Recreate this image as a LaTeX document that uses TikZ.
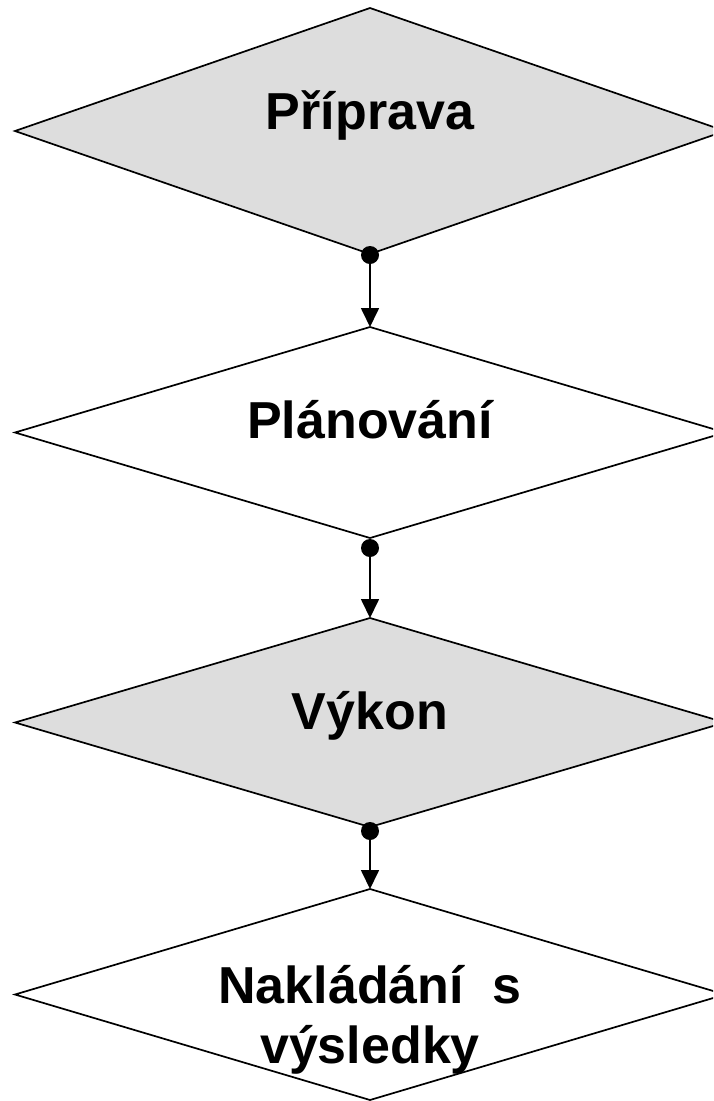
\documentclass[tikz,border=0pt]{standalone}
\usepackage{fontspec}
\setmainfont{Liberation Sans}
\usetikzlibrary{shapes.geometric,arrows.meta}
\definecolor{boxgray}{HTML}{DDDDDD}
\tikzset{
  stage/.style={shape=diamond, draw=black, line width=1.7pt, inner sep=0pt, outer sep=0pt, minimum width=710pt},
  label/.style={anchor=base, inner sep=0pt, font=\fontsize{52}{62}\selectfont\bfseries, align=center},
  joint/.style={circle, fill=black, inner sep=0pt, minimum size=18pt},
  flow/.style={line width=1.7pt, -{Triangle[length=19pt,width=18pt]}}
}
\begin{document}
\begin{tikzpicture}[x=1pt,y=-1pt]
\useasboundingbox (0,0) rectangle (713,1101);
\clip (0,0) rectangle (713,1101);
\node[stage, fill=boxgray, minimum height=246pt] (d1) at (370,131) {};
\node[stage, fill=white, minimum height=211pt] (d2) at (370,432.5) {};
\node[stage, fill=boxgray, minimum height=209pt] (d3) at (370,722.5) {};
\node[stage, fill=white, minimum height=211pt] (d4) at (370,994.5) {};
\node[label] (t1) at (370,129) {Příprava};
\node[label] (t2) at (370,438) {Plánování};
\node[label] (t3) at (370,729) {Výkon};
\node[label] (t4a) at (370,1003) {Nakládání\ \ s};
\node[label] (t4b) at (370,1063) {výsledky};
\node[joint] (j1) at (370,255) {};
\node[joint] (j2) at (370,548) {};
\node[joint] (j3) at (370,831) {};
\draw[flow] (j1) -- (d2.north);
\draw[flow] (j2) -- (d3.north);
\draw[flow] (j3) -- (d4.north);
\end{tikzpicture}
\end{document}
